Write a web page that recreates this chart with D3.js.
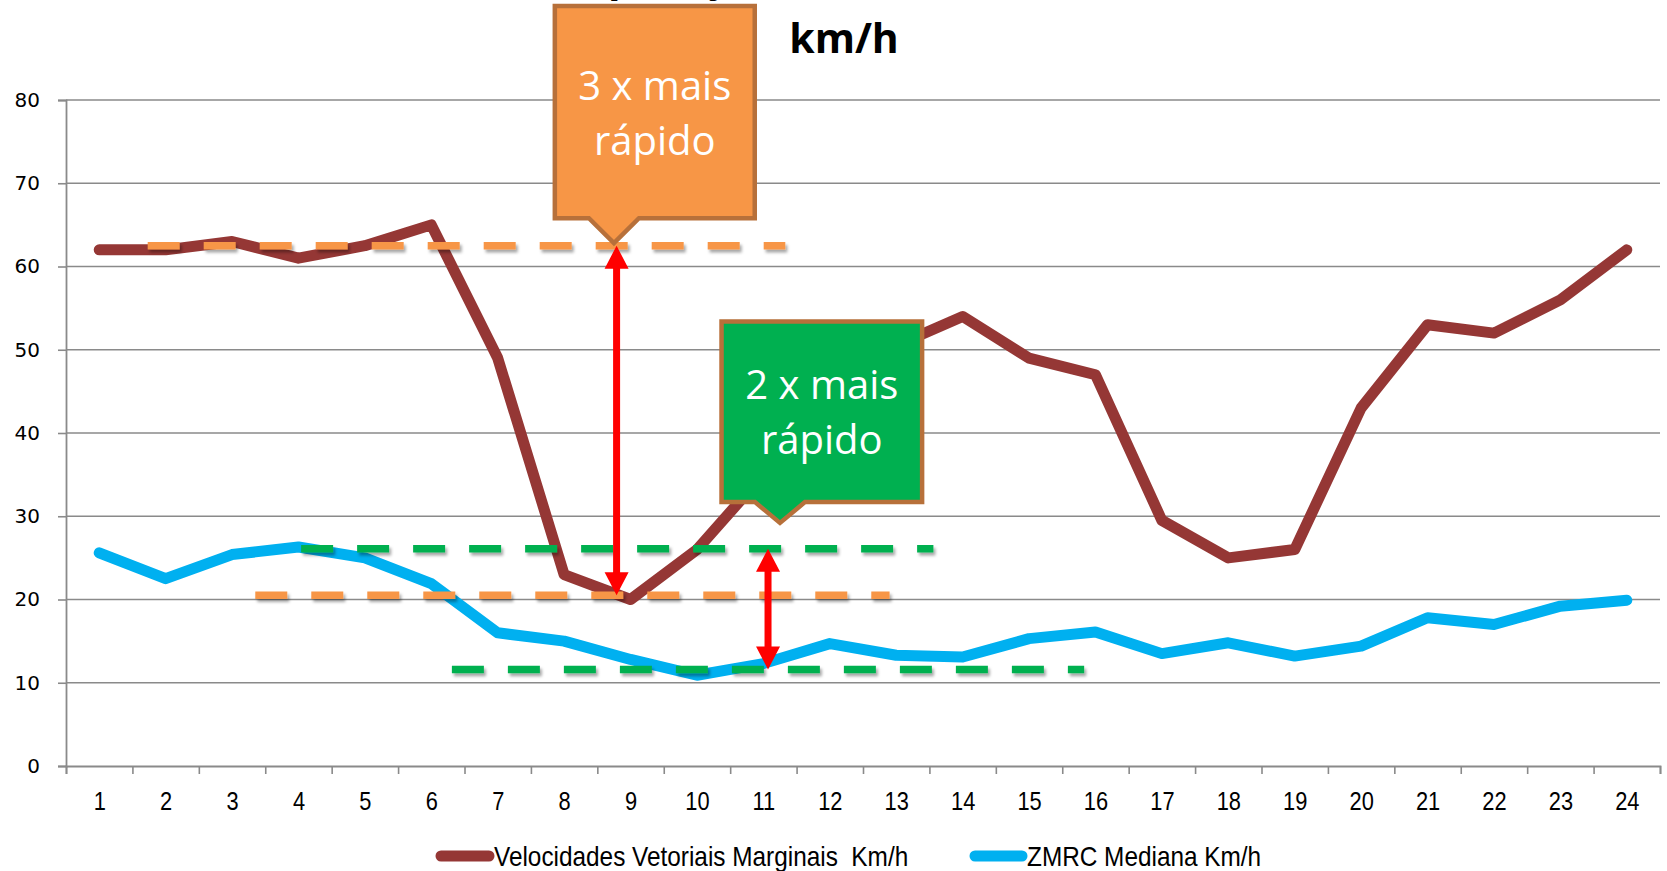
<!DOCTYPE html>
<html>
<head>
<meta charset="utf-8">
<script src="https://cdn.jsdelivr.net/npm/d3@7"></script>
<style>
  html, body { margin: 0; padding: 0; background: #ffffff; }
  svg { display: block; }
</style>
</head>
<body>
<svg id="chart" width="1667" height="871"></svg>
<script>
// ---------------- DATA ----------------
const hours = d3.range(1, 25);
const seriesNames = ["Velocidades Vetoriais Marginais  Km/h", "ZMRC Mediana Km/h"];
const marginais = [62, 62, 63, 61, 62.5, 65, 49, 23, 20, 26, 35, 44, 50.5, 54, 49, 47, 29.5, 25, 26, 43, 53, 52, 56, 62];
const zmrc = [25.6, 22.5, 25.4, 26.3, 25, 21.9, 16, 15, 12.8, 10.9, 12.3, 14.7, 13.3, 13.1, 15.3, 16.1, 13.5, 14.8, 13.2, 14.4, 17.8, 17, 19.2, 19.9];
const yTicks = [0, 10, 20, 30, 40, 50, 60, 70, 80];
const titleLines = ["Comparação de velocidades, em", "km/h"];
// reference levels (value, from hour, to hour)
const orangeLevels = [[62.5, 1.73, 11.33], [20.5, 3.35, 12.9]];
const greenLevels = [[26.1, 4.04, 13.56], [11.6, 6.31, 15.83]];
// double arrows (hour, from value, to value)
const arrows = [[8.79, 62.5, 20.5], [11.07, 26.1, 11.6]];
// callouts: text lines, box hours [x0,x1], box values [top,bottom], tip [hour,value]
const calloutTexts = [["3 x mais", "rápido"], ["2 x mais", "rápido"]];
const calloutBoxX = [[7.86, 10.87], [10.37, 13.39]];
const calloutBoxY = [[91.3, 65.8], [53.4, 31.7]];
const calloutTip = [[8.75, 62.8], [11.25, 29.2]];

// ---------------- LAYOUT ----------------
const svg = d3.select("#chart");
const L = 66, R = 1660, T = 100, B = 766;
const x = d3.scaleLinear().domain([0.5, 24.5]).range([L, R]);
const y = d3.scaleLinear().domain([0, 80]).range([B, T]);

const defs = svg.append("defs");
const sh = defs.append("filter").attr("id", "shadow").attr("x", "-10%").attr("y", "-100%").attr("width", "120%").attr("height", "400%");
sh.append("feDropShadow").attr("dx", 2).attr("dy", 3).attr("stdDeviation", 1.6).attr("flood-color", "#000").attr("flood-opacity", 0.35);

const narrow = "'Liberation Sans Narrow', 'Liberation Sans', Arial, sans-serif";

// title (first line sits above the frame, as in the reference)
svg.append("text").attr("x", 844).attr("y", -9).attr("text-anchor", "middle")
  .attr("font-family", "'Open Sans', sans-serif").attr("font-weight", "bold").attr("font-size", 41)
  .attr("fill", "#000").text(titleLines[0]);
svg.append("text").attr("x", 844).attr("y", 53).attr("text-anchor", "middle")
  .attr("font-family", "'Open Sans', sans-serif").attr("font-weight", "bold").attr("font-size", 41)
  .attr("fill", "#000").text(titleLines[1]);

// gridlines
svg.append("g").selectAll("line").data(yTicks.filter(d => d > 0)).join("line")
  .attr("x1", L).attr("x2", R).attr("y1", d => y(d)).attr("y2", d => y(d))
  .attr("stroke", "#8a8a8a").attr("stroke-width", 1.6);

// y axis
const yAxis = svg.append("g").attr("transform", `translate(${L},0)`)
  .call(d3.axisLeft(y).tickValues(yTicks).tickSize(8).tickPadding(18));
yAxis.select(".domain").attr("stroke", "#8a8a8a").attr("stroke-width", 1.8);
yAxis.selectAll(".tick line").attr("stroke", "#8a8a8a").attr("stroke-width", 1.6);
yAxis.selectAll(".tick text").attr("font-family", "'DejaVu Sans', sans-serif").attr("font-size", 20).attr("fill", "#000");

// x axis (ticks at category boundaries)
const xAxis = svg.append("g").attr("transform", `translate(0,${B})`)
  .call(d3.axisBottom(x).tickValues(d3.range(0.5, 25, 1)).tickSize(8).tickFormat(""));
xAxis.select(".domain").attr("stroke", "#8a8a8a").attr("stroke-width", 1.8);
xAxis.selectAll(".tick line").attr("stroke", "#8a8a8a").attr("stroke-width", 1.6);
const xLab = svg.append("g").attr("transform", `translate(0,${B})`)
  .call(d3.axisBottom(x).tickValues(hours).tickSize(0).tickPadding(0).tickFormat(d3.format("d")));
xLab.select(".domain").remove();
xLab.selectAll(".tick text").attr("y", 44).attr("dy", 0).attr("transform", "scale(0.84,1)")
  .attr("font-family", narrow).attr("font-size", 26).attr("fill", "#000");

// series lines
const line = d3.line().x((d, i) => x(hours[i])).y(d => y(d));
svg.append("path").datum(marginais).attr("d", line).attr("fill", "none")
  .attr("stroke", "#953735").attr("stroke-width", 11).attr("stroke-linejoin", "round").attr("stroke-linecap", "round");
svg.append("path").datum(zmrc).attr("d", line).attr("fill", "none")
  .attr("stroke", "#00B0F0").attr("stroke-width", 11).attr("stroke-linejoin", "round").attr("stroke-linecap", "round");

// dashed reference levels
function levels(data, color) {
  svg.append("g").attr("filter", "url(#shadow)").selectAll("line").data(data).join("line")
    .attr("x1", d => x(d[1])).attr("x2", d => x(d[2]))
    .attr("y1", d => y(d[0])).attr("y2", d => y(d[0]))
    .attr("stroke", color).attr("stroke-width", 7.5).attr("stroke-dasharray", "32 24");
}
levels(orangeLevels, "#F79646");
levels(greenLevels, "#00B050");

// double arrows
const headL = 23, headW = 12, shaftW = 3.5;
arrows.forEach(a => {
  const cx = x(a[0]), y1 = y(a[1]), y2 = y(a[2]);
  const p = [
    [cx, y1], [cx + headW, y1 + headL], [cx + shaftW, y1 + headL],
    [cx + shaftW, y2 - headL], [cx + headW, y2 - headL], [cx, y2],
    [cx - headW, y2 - headL], [cx - shaftW, y2 - headL], [cx - shaftW, y1 + headL],
    [cx - headW, y1 + headL]
  ];
  svg.append("path").attr("d", "M" + p.map(q => q.join(",")).join("L") + "Z").attr("fill", "#FF0000");
});

// callouts
const fills = ["#F79646", "#00B050"];
calloutTexts.forEach((lines, i) => {
  const x0 = x(calloutBoxX[i][0]), x1 = x(calloutBoxX[i][1]);
  const y0 = y(calloutBoxY[i][0]), y1 = y(calloutBoxY[i][1]);
  const tx = x(calloutTip[i][0]), ty = y(calloutTip[i][1]);
  const pl = tx - 25, pr = tx + 25;
  const d = `M${x0},${y0}L${x1},${y0}L${x1},${y1}L${pr},${y1}L${tx},${ty}L${pl},${y1}L${x0},${y1}Z`;
  svg.append("path").attr("d", d).attr("fill", fills[i]).attr("stroke", "#B7703A")
    .attr("stroke-width", 4.5).attr("stroke-linejoin", "miter");
  const cx = (x0 + x1) / 2;
  const base = i === 0 ? 100 : 399;
  lines.forEach((t, k) => {
    svg.append("text").attr("x", cx).attr("y", base + k * 55).attr("text-anchor", "middle")
      .attr("font-family", "'Open Sans', sans-serif").attr("font-size", 40).attr("fill", "#fff").text(t);
  });
});

// legend
const legend = [
  { name: seriesNames[0], color: "#953735", x0: 441, x1: 489, tx: 494 },
  { name: seriesNames[1], color: "#00B0F0", x0: 975, x1: 1022, tx: 1027 }
];
const lg = svg.append("g");
legend.forEach(l => {
  lg.append("line").attr("x1", l.x0).attr("x2", l.x1).attr("y1", 856).attr("y2", 856)
    .attr("stroke", l.color).attr("stroke-width", 11).attr("stroke-linecap", "round");
  lg.append("g").attr("transform", `translate(${l.tx},866) scale(0.87,1)`)
    .append("text").attr("x", 0).attr("y", 0)
    .attr("font-family", narrow).attr("font-size", 28)
    .attr("fill", "#000").attr("xml:space", "preserve").style("white-space", "pre").text(l.name);
});
</script>
</body>
</html>
